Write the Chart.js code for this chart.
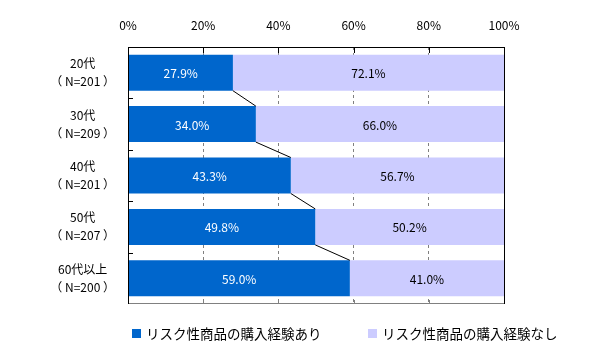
<!DOCTYPE html>
<html>
<head>
<meta charset="utf-8">
<script src="https://cdn.jsdelivr.net/npm/chart.js@4"></script>
<style>
  body { margin: 0; background: #fff; }
</style>
</head>
<body>
<canvas id="chart" width="600" height="351"></canvas>
<script>
const ageGroups = [["20代", "（ N=201 ）"], ["30代", "（ N=209 ）"], ["40代", "（ N=201 ）"], ["50代", "（ N=207 ）"], ["60代以上", "（ N=200 ）"]];
const seriesNames = ["リスク性商品の購入経験あり", "リスク性商品の購入経験なし"];
const experienced = [27.9, 34.0, 43.3, 49.8, 59.0];
const notExperienced = [72.1, 66.0, 56.7, 50.2, 41.0];
const seriesColors = ["#0066cc", "#ccccff"];
const labelColors = ["#ffffff", "#000000"];
const fontFamily = "'Noto Sans CJK JP', 'Noto Sans', sans-serif";

// value labels in the middle of each segment
const segmentLabels = {
    id: "segmentLabels",
    afterDatasetsDraw(chart) {
        const ctx = chart.ctx;
        ctx.save();
        ctx.font = "12px " + fontFamily;
        ctx.textAlign = "center";
        ctx.textBaseline = "middle";
        chart.data.datasets.forEach((ds, i) => {
            const meta = chart.getDatasetMeta(i);
            meta.data.forEach((bar, j) => {
                const p = bar.getProps(["x", "y", "base"], true);
                ctx.fillStyle = labelColors[i];
                ctx.fillText(ds.data[j].toFixed(1) + "%", (p.x + p.base) / 2, p.y + 1);
            });
        });
        ctx.restore();
    }
};

// frame, tick marks and the connector lines between bars
const frameAndLines = {
    id: "frameAndLines",
    afterDatasetsDraw(chart) {
        const ctx = chart.ctx;
        const a = chart.chartArea;
        const xs = chart.scales.x;
        const ys = chart.scales.y;
        ctx.save();
        ctx.lineWidth = 1;

        // series lines
        const meta = chart.getDatasetMeta(0);
        ctx.strokeStyle = "#000";
        ctx.beginPath();
        for (let j = 0; j < meta.data.length - 1; j++) {
            const b1 = meta.data[j].getProps(["x", "y", "height"], true);
            const b2 = meta.data[j + 1].getProps(["x", "y", "height"], true);
            ctx.moveTo(b1.x, b1.y + b1.height / 2);
            ctx.lineTo(b2.x, b2.y - b2.height / 2);
        }
        ctx.stroke();

        // bottom border (gray)
        ctx.strokeStyle = "#808080";
        ctx.beginPath();
        ctx.moveTo(a.left, a.bottom - 0.5);
        ctx.lineTo(a.right, a.bottom - 0.5);
        xs.ticks.forEach(t => {
            const x = Math.round(xs.getPixelForValue(t.value)) + 0.5;
            ctx.moveTo(x, a.bottom);
            ctx.lineTo(x, a.bottom - 4);
        });
        ctx.stroke();

        // top, left, right borders
        ctx.strokeStyle = "#000";
        ctx.beginPath();
        ctx.moveTo(a.left + 0.5, a.bottom);
        ctx.lineTo(a.left + 0.5, a.top + 0.5);
        ctx.lineTo(a.right + 0.5, a.top + 0.5);
        ctx.lineTo(a.right + 0.5, a.bottom);
        xs.ticks.forEach(t => {
            const x = Math.round(xs.getPixelForValue(t.value)) + 0.5;
            ctx.moveTo(x, a.top);
            ctx.lineTo(x, a.top + 6);
        });
        for (let j = 1; j < ageGroups.length; j++) {
            const y = Math.round((ys.getPixelForValue(j - 1) + ys.getPixelForValue(j)) / 2) + 0.5;
            ctx.moveTo(a.left, y);
            ctx.lineTo(a.left + 5, y);
        }
        ctx.stroke();
        ctx.restore();
    }
};

// legend under the plot
const bottomLegend = {
    id: "bottomLegend",
    afterDraw(chart) {
        const ctx = chart.ctx;
        const starts = [132, 368];
        ctx.save();
        ctx.font = "13.5px " + fontFamily;
        ctx.textBaseline = "middle";
        ctx.textAlign = "left";
        seriesNames.forEach((name, i) => {
            ctx.fillStyle = seriesColors[i];
            ctx.fillRect(starts[i], 329, 9, 9);
            ctx.fillStyle = "#000";
            ctx.fillText(name, starts[i] + 14, 334);
        });
        ctx.restore();
    }
};

new Chart(document.getElementById("chart"), {
    type: "bar",
    data: {
        labels: ageGroups,
        datasets: [
            { label: seriesNames[0], data: experienced, backgroundColor: seriesColors[0] },
            { label: seriesNames[1], data: notExperienced, backgroundColor: seriesColors[1] }
        ]
    },
    options: {
        indexAxis: "y",
        responsive: false,
        animation: false,
        barPercentage: 0.7,
        categoryPercentage: 1,
        layout: { padding: { top: 0, bottom: 47, left: 0, right: 96 } },
        plugins: {
            legend: { display: false },
            tooltip: { enabled: false }
        },
        scales: {
            x: {
                position: "top",
                stacked: true,
                min: 0,
                max: 100,
                border: { display: false, dash: [3, 3] },
                grid: {
                    drawTicks: false,
                    color: c => (c.tick && (c.tick.value === 0 || c.tick.value === 100)) ? "rgba(0,0,0,0)" : "#808080"
                },
                afterFit: s => { s.height = 47; s.paddingLeft = 0; s.paddingRight = 0; },
                ticks: {
                    stepSize: 20,
                    padding: 14,
                    color: "#000",
                    font: { family: fontFamily, size: 12 },
                    callback: v => v + "%"
                }
            },
            y: {
                stacked: true,
                border: { display: false },
                grid: { display: false, drawTicks: false },
                afterFit: s => { s.width = 128; s.paddingTop = 0; s.paddingBottom = 0; },
                ticks: {
                    crossAlign: "center",
                    padding: 13,
                    color: "#000",
                    font: { family: fontFamily, size: 12, lineHeight: 1.5 }
                }
            }
        }
    },
    plugins: [segmentLabels, frameAndLines, bottomLegend]
});
</script>
</body>
</html>
